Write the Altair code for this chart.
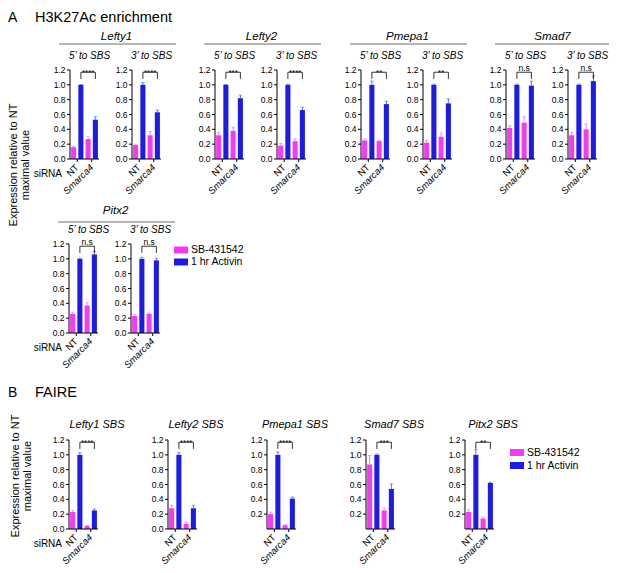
import altair as alt
import pandas as pd

FONT = "Liberation Sans"
OX = 8            # page margin
CW, CH = 601, 557 # drawing size
PW, PH = 29, 89   # plot size of every small panel

conditions = ["SB-431542", "1 hr Activin"]
sirna = ["NT", "Smarca4"]
bar_colors = ["#F23CF2", "#1C1CE3"]
err_colors = ["#F47AF2", "#5A72F0"]
y_ticks = [0.0, 0.2, 0.4, 0.6, 0.8, 1.0, 1.2]
y_ticks_no0 = [0.2, 0.4, 0.6, 0.8, 1.0, 1.2]

# Panel A (H3K27Ac); bar order: NT/SB, NT/Activin, Smarca4/SB, Smarca4/Activin
a_genes = ["Lefty1", "Lefty2", "Pmepa1", "Smad7", "Pitx2"]
a_regions = ["5’ to SBS", "3’ to SBS"]
a_means = [
    [0.16, 1.00, 0.27, 0.53],
    [0.19, 1.00, 0.32, 0.63],
    [0.32, 1.00, 0.38, 0.82],
    [0.18, 1.00, 0.24, 0.66],
    [0.25, 1.00, 0.24, 0.74],
    [0.22, 1.00, 0.30, 0.75],
    [0.42, 1.00, 0.49, 0.99],
    [0.32, 1.00, 0.40, 1.05],
    [0.26, 1.00, 0.37, 1.06],
    [0.23, 1.00, 0.26, 0.98],
]
a_sems = [
    [0.01, 0.005, 0.03, 0.04],
    [0.01, 0.03, 0.05, 0.03],
    [0.04, 0.005, 0.05, 0.04],
    [0.03, 0.01, 0.03, 0.04],
    [0.02, 0.05, 0.01, 0.04],
    [0.03, 0.01, 0.05, 0.06],
    [0.03, 0.01, 0.08, 0.06],
    [0.04, 0.01, 0.07, 0.07],
    [0.02, 0.01, 0.04, 0.04],
    [0.02, 0.02, 0.01, 0.03],
]
a_sig = ["****", "****", "***", "****", "**", "**", "n.s", "n.s", "n.s", "n.s"]

# Panel B (FAIRE)
b_titles = ["Lefty1 SBS", "Lefty2 SBS", "Pmepa1 SBS", "Smad7 SBS", "Pitx2 SBS"]
b_means = [
    [0.23, 1.00, 0.04, 0.25],
    [0.28, 1.00, 0.07, 0.28],
    [0.20, 1.00, 0.05, 0.41],
    [0.87, 1.00, 0.25, 0.54],
    [0.23, 1.00, 0.14, 0.62],
]
b_sems = [
    [0.02, 0.03, 0.01, 0.02],
    [0.04, 0.03, 0.02, 0.04],
    [0.03, 0.04, 0.01, 0.02],
    [0.12, 0.01, 0.03, 0.07],
    [0.03, 0.07, 0.02, 0.01],
]
b_sig = ["****", "****", "****", "***", "**"]

# layout: page pixel of each panel's plot-area top-left corner
a_px = [70, 132, 215, 277, 361, 423, 506, 568, 69, 131]
a_py = [70] * 8 + [244] * 2
b_px = [69, 168, 267, 366, 465]
b_py = 440
BR_LO, BR_HI = 1.08, 1.17

color_scale = alt.Scale(domain=conditions, range=bar_colors)
err_color = alt.when(alt.datum.cond == conditions[0]).then(alt.value(err_colors[0])).otherwise(alt.value(err_colors[1]))


def one(**cols):
    return pd.DataFrame(cols)


def panel(means, sems, sig, px, py, yvals):
    x0, y0 = px - OX, py - OX
    yb = y0 + PH
    df = pd.DataFrame({
        "siRNA": [sirna[0], sirna[0], sirna[1], sirna[1]],
        "cond": conditions * 2,
        "mean": means,
        "sem": sems,
    })
    df["top"] = df["mean"] + df["sem"]
    xscale = alt.Scale(domain=sirna, range=[x0, x0 + PW], paddingInner=0, paddingOuter=0)
    yscale = alt.Scale(domain=[0, 1.2], range=[yb, y0], nice=False, zero=False)
    xo = alt.XOffset("cond:N", scale=alt.Scale(domain=conditions, paddingInner=0.3, paddingOuter=0.15))
    X = alt.X("siRNA:N", axis=None)
    base = alt.Chart(df)
    bars = base.mark_bar().encode(
        x=alt.X("siRNA:N", scale=xscale, axis=None),
        xOffset=xo,
        y=alt.Y("mean:Q", scale=yscale, axis=None),
        color=alt.Color("cond:N", scale=color_scale, legend=None),
    )
    err = base.mark_rule(strokeWidth=1).encode(
        x=X, xOffset=alt.XOffset("cond:N"),
        y=alt.Y("mean:Q", axis=None), y2="top:Q", color=err_color,
    )
    cap = base.mark_tick(size=3.5, thickness=1, orient="horizontal").encode(
        x=X, xOffset=alt.XOffset("cond:N"),
        y=alt.Y("top:Q", axis=None), color=err_color,
    )
    br = one(siRNA=[sirna[0], sirna[0], sirna[1], sirna[1]],
             by=[BR_LO, BR_HI, BR_HI, BR_LO], k=[0, 1, 2, 3])
    bracket = alt.Chart(br).mark_line(color="black", strokeWidth=0.8).encode(
        x=alt.X("siRNA:N", bandPosition=0.75, axis=None),
        y=alt.Y("by:Q", axis=None), order="k:Q",
    )
    is_ns = sig == "n.s"
    stars = alt.Chart(one(siRNA=[sirna[1]], by=[BR_HI], lab=[sig])).mark_text(
        font=FONT, fontSize=8.5 if is_ns else 8, baseline="alphabetic",
        dy=-1.5 if is_ns else 2.5).encode(
        x=alt.X("siRNA:N", bandPosition=0.25, axis=None),
        y=alt.Y("by:Q", axis=None), text="lab:N",
    )
    # axes drawn through the panel scales
    ydom = alt.Chart(one(lo=[0.0], hi=[1.2])).mark_rule(color="black", strokeWidth=1).encode(
        x=alt.value(x0), y=alt.Y("lo:Q", axis=None), y2="hi:Q")
    tk = alt.Chart(one(v=yvals))
    ytick = tk.mark_rule(color="black", strokeWidth=1).encode(
        x=alt.value(x0 - 3), x2=alt.value(x0), y=alt.Y("v:Q", axis=None))
    ylab = tk.mark_text(font=FONT, fontSize=8.5, align="right", baseline="middle").encode(
        x=alt.value(x0 - 4.5), y=alt.Y("v:Q", axis=None), text=alt.Text("v:Q", format=".1f"))
    xdom = alt.Chart(one(t=[0])).mark_rule(color="black", strokeWidth=1).encode(
        x=alt.value(x0), x2=alt.value(x0 + PW), y=alt.value(yb))
    xt = alt.Chart(one(siRNA=sirna))
    xtick = xt.mark_rule(color="black", strokeWidth=1).encode(
        x=X, y=alt.value(yb), y2=alt.value(yb + 3))
    xlab_nt = alt.Chart(one(siRNA=[sirna[0]])).mark_text(
        font=FONT, fontSize=9.5, align="right", baseline="middle", angle=315).encode(
        x=X, y=alt.value(yb + 7), text="siRNA:N")
    xlab_sm = alt.Chart(one(siRNA=[sirna[1]])).mark_text(
        font=FONT, fontSize=9.5, fontStyle="italic", align="right", baseline="middle", angle=315).encode(
        x=X, y=alt.value(yb + 7), text="siRNA:N")
    return alt.layer(bars, err, cap, bracket, stars, ydom, ytick, ylab, xdom, xtick, xlab_nt, xlab_sm)


def txt(s, px, py, size, style="normal", align="left", baseline="alphabetic", angle=0):
    return alt.Chart(one(t=[s])).mark_text(
        font=FONT, fontSize=size, fontStyle=style, align=align, baseline=baseline,
        angle=angle, color="black",
    ).encode(text="t:N", x=alt.value(px - OX), y=alt.value(py - OX))


def hline(px1, px2, py):
    return alt.Chart(one(t=[0])).mark_rule(color="#6e6e6e", strokeWidth=1).encode(
        x=alt.value(px1 - OX), x2=alt.value(px2 - OX), y=alt.value(py - OX))


def legend(px, py_first, step):
    leg = one(cond=conditions)
    yl = alt.Y("cond:N", axis=None,
               scale=alt.Scale(type="point", domain=conditions, padding=0,
                               range=[py_first - OX, py_first + step - OX]))
    sw = alt.Chart(leg).mark_point(shape="M-1,-0.5L1,-0.5L1,0.5L-1,0.5Z", size=196,
                                   filled=True, opacity=1, strokeWidth=0).encode(
        x=alt.value(px + 7 - OX), y=yl,
        color=alt.Color("cond:N", scale=color_scale, legend=None))
    tx = alt.Chart(leg).mark_text(font=FONT, fontSize=10.5, align="left", baseline="middle").encode(
        x=alt.value(px + 17 - OX), y=yl, text="cond:N")
    return alt.layer(sw, tx)


layers = []
for i in range(10):
    layers.append(panel(a_means[i], a_sems[i], a_sig[i], a_px[i], a_py[i], y_ticks))
for i in range(5):
    layers.append(panel(b_means[i], b_sems[i], b_sig[i], b_px[i], b_py, y_ticks if i < 2 else y_ticks_no0))
layers.append(legend(174, 250, 12))
layers.append(legend(510, 452.5, 13))

deco = []
deco.append(txt("A", 8, 22, 14))
deco.append(txt("H3K27Ac enrichment", 35, 22, 14.5))
deco.append(txt("B", 8, 397, 14))
deco.append(txt("FAIRE", 35, 397, 14.5))
for g in range(5):
    px = a_px[2 * g]
    py = a_py[2 * g]
    deco.append(txt(a_genes[g], px + 46.5, py - 30, 11.5, style="italic", align="center"))
    deco.append(hline(px - 11, px + 106, py - 26 if g < 4 else py - 22))
for i in range(10):
    deco.append(txt(a_regions[i % 2], a_px[i] + 19.5, a_py[i] - 11, 10, style="italic", align="center"))
for i in range(5):
    deco.append(txt(b_titles[i], b_px[i] + 28, b_py - 12, 11, style="italic", align="center"))
for py in (70, 244, 440):
    deco.append(txt("siRNA", 62, py + PH + 15, 10, align="right", baseline="middle"))
deco.append(txt("Expression relative to NT", 14, 165, 11, align="center", baseline="middle", angle=270))
deco.append(txt("maximal value", 26, 165, 11, align="center", baseline="middle", angle=270))
deco.append(txt("Expression relative to NT", 16, 476, 11, align="center", baseline="middle", angle=270))
deco.append(txt("maximal value", 28, 476, 11, align="center", baseline="middle", angle=270))

chart = alt.layer(*layers, *deco).resolve_scale(
    x="independent", y="independent", xOffset="independent"
).properties(
    width=CW, height=CH, padding=0, autosize=alt.AutoSizeParams(type="none")
).configure_view(stroke=None)

chart.save("out.html", embed_options={"renderer": "svg", "actions": False})
